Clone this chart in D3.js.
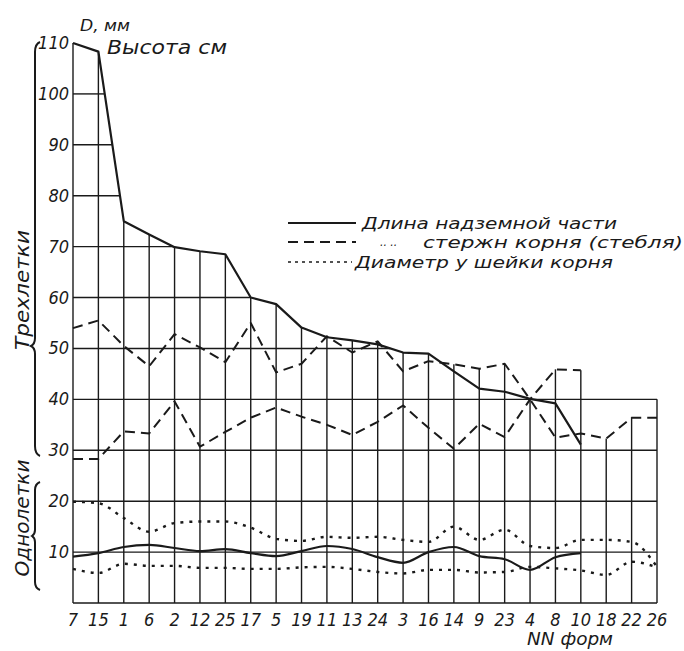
<!DOCTYPE html>
<html><head><meta charset="utf-8">
<script src="https://cdn.jsdelivr.net/npm/d3@7"></script>
<style>
html,body{margin:0;padding:0;background:#fff;}
text{font-family:"DejaVu Sans Condensed","Liberation Sans Narrow","DejaVu Sans",sans-serif;font-style:italic;fill:#1a1a1a;}
</style></head>
<body><svg id="c" width="684" height="651"></svg>
<script>
const categories = ["7","15","1","6","2","12","25","17","5","19","11","13","24","3","16","14","9","23","4","8","10","18","22","26"];
const yTicks = [10,20,30,40,50,60,70,80,90,100,110];
// Трехлетки: длина надземной части (solid, upper)
const heightThree = [110,108.3,75,72.4,69.9,69.1,68.5,60,58.7,54.1,52.2,51.6,50.8,49.2,49,45.5,42.1,41.5,40.1,39.2,31.1];
// dashed upper
const rootThreeA = [54,55.5,50.5,46.5,52.8,50.2,47.3,55,45.3,47,52.4,49.2,51.4,45.5,47.5,46.9,46,47,40,32.5,33.3,32.3,36.4,36.4];
// dashed lower
const rootThreeB = [28.3,28.3,33.7,33.3,39.6,30.7,33.6,36.4,38.4,36.6,35,33,35.6,38.8,34.4,30.3,35.2,32.6,40,45.9,45.7];
// dotted upper (diameter)
const diamA = [19.9,19.6,16.7,14,15.7,16,16,14.8,12.6,12.2,13,12.8,13,12.4,12,15,12.4,14.4,11.2,10.8,12.4,12.4,12,7.1];
// Однолетки: solid lower
const heightOne = [9.1,9.8,11,11.4,10.8,10.2,10.6,9.8,9.2,10.2,11.2,10.6,9,7.9,10,11,9.2,8.6,6.5,9,9.8];
// dotted lower
const diamB = [6.7,5.9,7.7,7.3,7.3,6.9,6.9,6.7,6.7,7,7.1,6.7,6.1,5.8,6.5,6.5,6,6.1,7.1,6.8,6.4,5.5,8.1,7];
const frameTop = 40;

const svg = d3.select("#c");
const x = d3.scalePoint().domain(categories).range([73,657]);
const y = d3.scaleLinear().domain([0,110]).range([603,43]);
const step = x.step();
const ink = "#1a1a1a";

function crossX(v){
  for(let i=1;i<heightThree.length;i++){
    if(heightThree[i] <= v){
      const a=heightThree[i-1], b=heightThree[i];
      return x(categories[i-1]) + (a-v)/(a-b)*step;
    }
  }
  return x(categories[categories.length-1]);
}
const g = svg.append("g");
[0].concat(yTicks.filter(v=>v<110)).forEach(v=>{
  const xe = v<=frameTop ? x(categories[categories.length-1]) : crossX(v);
  g.append("line").attr("x1",x(categories[0])).attr("x2",xe)
   .attr("y1",y(v)).attr("y2",y(v)).attr("stroke",ink).attr("stroke-width",1.4);
});
categories.forEach((c,i)=>{
  const vals=[heightThree[i],rootThreeA[i],rootThreeB[i]].filter(v=>v!==undefined);
  let top=d3.max(vals);
  if(i===categories.length-1) top=Math.max(top,frameTop);
  g.append("line").attr("x1",x(c)).attr("x2",x(c))
   .attr("y1",y(0)).attr("y2",y(top)).attr("stroke",ink).attr("stroke-width",1.4);
});

function drawLine(data, dash, w, curve){
  const line = d3.line().x((d,i)=>x(categories[i])).y(d=>y(d)).curve(curve||d3.curveLinear);
  svg.append("path").attr("d",line(data)).attr("fill","none").attr("stroke",ink)
    .attr("stroke-width",w).attr("stroke-dasharray",dash).attr("stroke-linejoin","round");
}
drawLine(heightThree,null,2.2);
drawLine(rootThreeA,"10,6",2);
drawLine(rootThreeB,"10,6",2);
drawLine(diamA,"3,6",2.4,d3.curveMonotoneX);
drawLine(heightOne,null,2.2,d3.curveMonotoneX);
drawLine(diamB,"3,6",2.4,d3.curveMonotoneX);

yTicks.forEach(v=>{
  svg.append("text").attr("x",69).attr("y",y(v)+6).attr("text-anchor","end")
    .attr("font-size",18).text(v);
});
categories.forEach(c=>{
  svg.append("text").attr("x",x(c)).attr("y",626).attr("text-anchor","middle")
    .attr("font-size",18).text(c);
});
svg.append("text").attr("x",527).attr("y",645).attr("font-size",17).attr("textLength",86).attr("lengthAdjust","spacingAndGlyphs").text("NN форм");
svg.append("text").attr("x",80).attr("y",31).attr("font-size",15).attr("textLength",50).attr("lengthAdjust","spacingAndGlyphs").text("D, мм");
svg.append("text").attr("x",107).attr("y",54).attr("font-size",19).attr("textLength",120).attr("lengthAdjust","spacingAndGlyphs").text("Высота см");

svg.append("path").attr("d","M40,42 Q35,44 35,52 L35,338 Q35,344 31,346 Q35,348 35,354 L35,446 Q35,454 40,456")
  .attr("fill","none").attr("stroke",ink).attr("stroke-width",2);
svg.append("path").attr("d","M40,482 Q35,484 35,490 L35,530 Q35,534 32,536 Q35,538 35,542 L35,582 Q35,588 40,590")
  .attr("fill","none").attr("stroke",ink).attr("stroke-width",2);
svg.append("text").attr("transform","translate(29,290) rotate(-90)").attr("text-anchor","middle")
  .attr("font-size",19).attr("textLength",120).attr("lengthAdjust","spacingAndGlyphs").text("Трехлетки");
svg.append("text").attr("transform","translate(29,518) rotate(-90)").attr("text-anchor","middle")
  .attr("font-size",19).attr("textLength",117).attr("lengthAdjust","spacingAndGlyphs").text("Однолетки");

const leg = [
  {y:223, dash:null, text:"Длина надземной части", tx:362, tl:255, ty:229},
  {y:242, dash:"10,6", text:"стержн корня  (стебля)", tx:423, tl:260, ty:248},
  {y:262, dash:"3,4", text:"Диаметр у шейки корня", tx:355, tl:258, ty:268}
];
leg.forEach(d=>{
  svg.append("line").attr("x1",288).attr("x2",d.dash==="3,4"?352:356).attr("y1",d.y).attr("y2",d.y)
    .attr("stroke",ink).attr("stroke-width",d.dash==="3,4"?1.6:2.2).attr("stroke-dasharray",d.dash);
  svg.append("text").attr("x",d.tx).attr("y",d.ty).attr("font-size",16)
    .attr("textLength",d.tl).attr("lengthAdjust","spacingAndGlyphs").text(d.text);
});
svg.append("text").attr("x",380).attr("y",246).attr("font-size",12).attr("fill","#555").text("..  ..");
</script></body></html>
